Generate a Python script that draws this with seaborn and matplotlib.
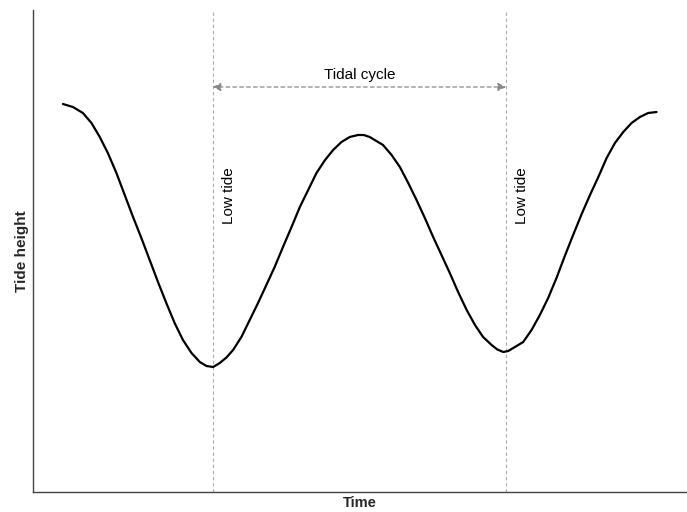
import matplotlib
matplotlib.use("Agg")
import matplotlib.pyplot as plt
import seaborn as sns
import pandas as pd

# Tide height (m) over a little more than one day (hours)
time_h = [0.00, 0.42, 0.84, 1.20, 1.55, 1.89, 2.25, 2.60, 2.95, 3.30,
          3.65, 4.00, 4.35, 4.70, 5.05, 5.41, 5.76, 6.04, 6.32, 6.60,
          6.88, 7.16, 7.51, 7.86, 8.21, 8.56, 8.91, 9.26, 9.62, 9.97,
          10.32, 10.67, 11.03, 11.37, 11.72, 12.07, 12.42, 12.66, 12.91, 13.47,
          13.83, 14.18, 14.53, 14.88, 15.23, 15.58, 15.93, 16.28, 16.63, 16.99,
          17.34, 17.68, 18.04, 18.28, 18.53, 18.74, 18.95, 19.37, 19.72, 20.07,
          20.42, 20.77, 21.12, 21.47, 21.83, 22.18, 22.53, 22.88, 23.23, 23.58,
          23.93, 24.28, 24.63, 24.98]
height_m = [3.88, 3.85, 3.79, 3.69, 3.55, 3.39, 3.19, 2.97, 2.75, 2.54,
            2.32, 2.10, 1.89, 1.69, 1.52, 1.39, 1.30, 1.26, 1.25, 1.29,
            1.345, 1.42, 1.55, 1.72, 1.89, 2.07, 2.25, 2.45, 2.65, 2.85,
            3.02, 3.19, 3.32, 3.42, 3.50, 3.55, 3.57, 3.57, 3.55, 3.47,
            3.37, 3.25, 3.09, 2.92, 2.74, 2.55, 2.37, 2.19, 2.00, 1.82,
            1.67, 1.55, 1.47, 1.425, 1.40, 1.41, 1.44, 1.50, 1.62, 1.77,
            1.94, 2.14, 2.36, 2.57, 2.78, 2.97, 3.15, 3.34, 3.49, 3.60,
            3.69, 3.75, 3.79, 3.80]

low_tide_times = [6.3, 18.65]
low_tide_label = "Low tide"
cycle_label = "Tidal cycle"

sns.set_style("white")
plt.rcParams["font.family"] = ["Liberation Sans", "DejaVu Sans"]

fig = plt.figure(figsize=(6.87, 5.12), dpi=100)
ax = fig.add_axes([33 / 687, 20 / 512, 653 / 687, 482 / 512])

df = pd.DataFrame({"Time": time_h, "Tide height": height_m})
sns.lineplot(data=df, x="Time", y="Tide height", ax=ax, color="black",
             linewidth=1.6, sort=False)

ax.set_xlim(-1.26, 26.22)
ax.set_ylim(0, 4.82)

# Low-tide markers
for t in low_tide_times:
    ax.axvline(t, color="#aaaaaa", linestyle=(0, (3, 2.5)), linewidth=0.8, zorder=1)
    ax.text(t + 0.68, 2.96, low_tide_label, rotation=90, ha="center", va="center",
            fontsize=11, color="black")

# Cycle length arrow between the two low tides
ax.annotate("", xy=(low_tide_times[0], 4.05), xytext=(low_tide_times[1], 4.05),
            arrowprops=dict(arrowstyle="<|-|>", color="#888888", linestyle=(0, (3, 2.5)),
                            linewidth=0.9, mutation_scale=12, shrinkA=0, shrinkB=0))
ax.text(sum(low_tide_times) / 2, 4.10, cycle_label, ha="center", va="bottom",
        fontsize=11, color="black")

ax.set_xticks([])
ax.set_yticks([])
ax.set_xlabel("Time", fontsize=10.5, fontweight="bold", labelpad=3)
ax.set_ylabel("Tide height", fontsize=11, fontweight="bold", labelpad=3)

for side in ("top", "right"):
    ax.spines[side].set_visible(False)
for side in ("left", "bottom"):
    ax.spines[side].set_color("#444444")
    ax.spines[side].set_linewidth(1.0)

fig.savefig("out.png", dpi=100)
